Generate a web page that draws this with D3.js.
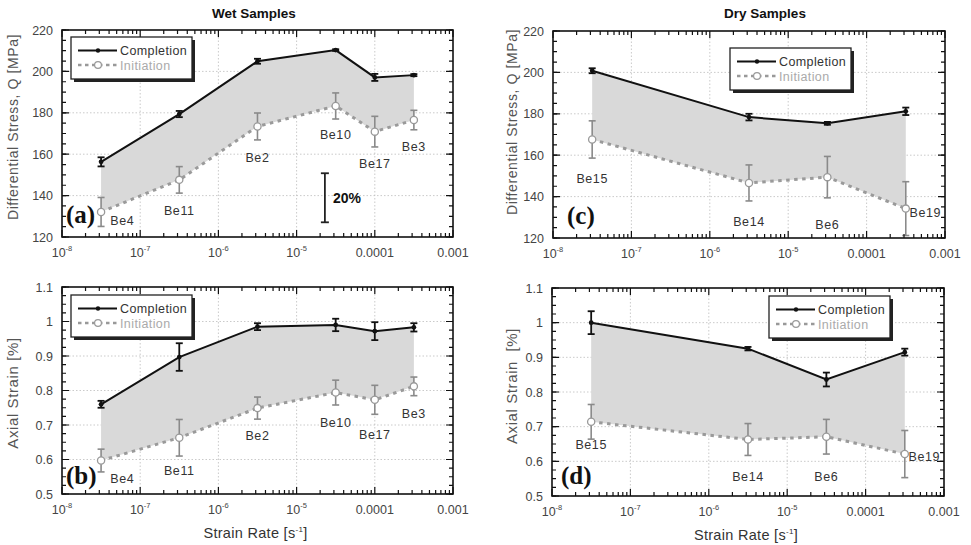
<!DOCTYPE html>
<html>
<head>
<meta charset="utf-8">
<script src="https://cdn.jsdelivr.net/npm/d3@7"></script>
<style>
  body { margin: 0; background: #fff; }
  svg { display: block; font-family: "Liberation Sans", Arial, sans-serif; }
</style>
</head>
<body>
<svg id="chart" width="971" height="545"></svg>
<script>

// ---- data ----

var wetRates  = [3.16e-8, 3.16e-7, 3.16e-6, 3.16e-5, 1e-4, 3.16e-4]
var wetNames  = ["Be4", "Be11", "Be2", "Be10", "Be17", "Be3"]
var wetLabelRates = [5.9e-8, 3.16e-7, 3.16e-6, 3.16e-5, 1e-4, 3.16e-4]

var wetStressCompletion    = [156.3, 179.4, 204.9, 210.3, 197.1, 198.2]
var wetStressCompletionErr = [2.2, 1.5, 1.2, 0.4, 1.7, 0.5]
var wetStressInitiation    = [132.1, 147.6, 173.4, 183.3, 170.9, 176.5]
var wetStressInitiationErr = [7, 6.4, 6.5, 6.3, 7.4, 4.7]
var wetStressLabels        = [128.2, 133, 158.5, 169.3, 155.6, 163.6]

var wetStrainCompletion    = [0.76, 0.897, 0.985, 0.99, 0.972, 0.983]
var wetStrainCompletionErr = [0.01, 0.04, 0.01, 0.018, 0.026, 0.012]
var wetStrainInitiation    = [0.597, 0.663, 0.749, 0.794, 0.773, 0.812]
var wetStrainInitiationErr = [0.033, 0.053, 0.032, 0.036, 0.042, 0.027]
var wetStrainLabels        = [0.545, 0.569, 0.671, 0.707, 0.672, 0.734]

var dryRates  = [3.16e-8, 3.16e-6, 3.16e-5, 3.16e-4]
var dryNames  = ["Be15", "Be14", "Be6", "Be19"]
var dryLabelRates = [3.16e-8, 3.16e-6, 3.16e-5, 5.6e-4]

var dryStressCompletion    = [200.8, 178.4, 175.4, 181.2]
var dryStressCompletionErr = [1.2, 1.6, 0.7, 1.8]
var dryStressInitiation    = [167.6, 146.6, 149.4, 134.2]
var dryStressInitiationErr = [9, 8.7, 10, 13]
var dryStressLabels        = [148.8, 128.2, 126.3, 132.4]

var dryStrainCompletion    = [1.0, 0.925, 0.836, 0.915]
var dryStrainCompletionErr = [0.033, 0.005, 0.02, 0.01]
var dryStrainInitiation    = [0.714, 0.663, 0.671, 0.621]
var dryStrainInitiationErr = [0.05, 0.046, 0.05, 0.068]
var dryStrainLabels        = [0.649, 0.556, 0.556, 0.613]

var xDomain = [1e-8, 1e-3]
var xTickLabels = ["10|-8", "10|-7", "10|-6", "10|-5", "0.0001", "0.001"]
var stressTicks = [120, 140, 160, 180, 200, 220]
var strainTicks = [0.5, 0.6, 0.7, 0.8, 0.9, 1, 1.1]

// scale bar drawn in panel (a)
var scaleBarRate = 2.3e-5
var scaleBarRange = [127.1, 150.8]
var scaleBarText = "20%"

var svg = d3.select("#chart")

function drawPanel(p) {

  var x = d3.scaleLog().domain(xDomain).range([p.left, p.right])
  var y = d3.scaleLinear().domain([p.yTicks[0], p.yTicks[p.yTicks.length-1]]).range([p.bottom, p.top])
  var g = svg.append("g")

  // grid
  var decades = d3.range(-8, -2).map(function(e){ return Math.pow(10, e) })
  g.selectAll(".gx").data(decades.slice(1, -1)).enter().append("line")
    .attr("x1", x).attr("x2", x).attr("y1", p.top).attr("y2", p.bottom)
    .attr("stroke", "#bdbdbd").attr("stroke-width", 0.8).attr("stroke-dasharray", "1.5,2")
  g.selectAll(".gy").data(p.yTicks.slice(1, -1)).enter().append("line")
    .attr("x1", p.left).attr("x2", p.right).attr("y1", y).attr("y2", y)
    .attr("stroke", "#bdbdbd").attr("stroke-width", 0.8).attr("stroke-dasharray", "1.5,2")

  var rows = p.rates.map(function(r, i) {
    return { r: r, c: p.comp[i], ce: p.compErr[i], n: p.init[i], ne: p.initErr[i] }
  })

  // band between initiation and completion
  var area = d3.area().x(function(d){ return x(d.r) })
      .y0(function(d){ return y(d.n) }).y1(function(d){ return y(d.c) })
  g.append("path").datum(rows).attr("d", area).attr("fill", "#d9d9d9")

  var initLine = d3.line().x(function(d){ return x(d.r) }).y(function(d){ return y(d.n) })
  var compLine = d3.line().x(function(d){ return x(d.r) }).y(function(d){ return y(d.c) })

  g.append("path").datum(rows).attr("d", initLine).attr("fill", "none")
    .attr("stroke", "#9a9a9a").attr("stroke-width", 3).attr("stroke-dasharray", "3.5,4.5")
  g.append("path").datum(rows).attr("d", compLine).attr("fill", "none")
    .attr("stroke", "#111").attr("stroke-width", 2)

  function errorBars(key, errKey, colour, width) {
    var eb = g.selectAll(null).data(rows).enter().append("g").attr("stroke", colour).attr("stroke-width", width)
    eb.append("line").attr("x1", function(d){ return x(d.r) }).attr("x2", function(d){ return x(d.r) })
      .attr("y1", function(d){ return y(d[key] - d[errKey]) }).attr("y2", function(d){ return y(d[key] + d[errKey]) })
    eb.append("line").attr("x1", function(d){ return x(d.r) - 3.5 }).attr("x2", function(d){ return x(d.r) + 3.5 })
      .attr("y1", function(d){ return y(d[key] - d[errKey]) }).attr("y2", function(d){ return y(d[key] - d[errKey]) })
    eb.append("line").attr("x1", function(d){ return x(d.r) - 3.5 }).attr("x2", function(d){ return x(d.r) + 3.5 })
      .attr("y1", function(d){ return y(d[key] + d[errKey]) }).attr("y2", function(d){ return y(d[key] + d[errKey]) })
  }
  errorBars("n", "ne", "#8a8a8a", 1.6)
  errorBars("c", "ce", "#111", 1.8)

  g.selectAll(null).data(rows).enter().append("circle")
    .attr("cx", function(d){ return x(d.r) }).attr("cy", function(d){ return y(d.n) }).attr("r", 3.6)
    .attr("fill", "#fff").attr("stroke", "#999").attr("stroke-width", 1.3)
  g.selectAll(null).data(rows).enter().append("circle")
    .attr("cx", function(d){ return x(d.r) }).attr("cy", function(d){ return y(d.c) }).attr("r", 2.4)
    .attr("fill", "#111")

  // sample names
  g.selectAll(null).data(p.names).enter().append("text")
    .attr("x", function(d, i){ return x(p.labelRates[i]) })
    .attr("y", function(d, i){ return y(p.labelValues[i]) + 4.5 })
    .attr("text-anchor", "middle").attr("font-size", 12.5).attr("letter-spacing", 0.6)
    .attr("fill", "#333").text(function(d){ return d })

  // frame and ticks
  g.append("rect").attr("x", p.left).attr("y", p.top)
    .attr("width", p.right - p.left).attr("height", p.bottom - p.top)
    .attr("fill", "none").attr("stroke", "#111").attr("stroke-width", 1.6)

  var minorX = []
  decades.slice(0, -1).forEach(function(d){
    for (var k = 2; k <= 9; k++) minorX.push(k * d)
  })
  function xTicks(vals, len) {
    g.selectAll(null).data(vals).enter().append("path")
      .attr("d", function(d){
        var xx = x(d)
        return "M" + xx + "," + p.bottom + "v" + (-len) + "M" + xx + "," + p.top + "v" + len
      })
      .attr("stroke", "#111").attr("stroke-width", 1.2)
  }
  xTicks(minorX, 4)
  xTicks(decades, 7)

  var yLo = p.yTicks[0], yHi = p.yTicks[p.yTicks.length-1]
  var minorY = d3.range(0, Math.round((yHi - yLo) / p.yMinor) + 1).map(function(i){ return yLo + i * p.yMinor })
  function yTicksDraw(vals, len) {
    g.selectAll(null).data(vals).enter().append("path")
      .attr("d", function(d){
        var yy = y(d)
        return "M" + p.left + "," + yy + "h" + len + "M" + p.right + "," + yy + "h" + (-len)
      })
      .attr("stroke", "#111").attr("stroke-width", 1.2)
  }
  yTicksDraw(minorY, 4)
  yTicksDraw(p.yTicks, 7)

  // tick labels
  g.selectAll(null).data(p.yTicks).enter().append("text")
    .attr("x", p.left - 9).attr("y", function(d){ return y(d) + 4.5 })
    .attr("text-anchor", "end").attr("font-size", 12.5).attr("fill", "#444")
    .text(function(d){ return String(+d.toFixed(2)) })

  var xl = g.selectAll(null).data(decades).enter().append("text")
    .attr("x", function(d){ return x(d) }).attr("y", p.bottom + 20)
    .attr("text-anchor", "middle").attr("font-size", 12.5).attr("fill", "#444")
  xl.each(function(d, i){
    var parts = xTickLabels[i].split("|")
    var t = d3.select(this)
    t.append("tspan").text(parts[0])
    if (parts[1]) t.append("tspan").attr("dy", -6).attr("font-size", 7.5).text(parts[1])
  })

  // axis titles
  g.append("text")
    .attr("transform", "translate(" + p.yTitleX + "," + p.yTitleY + ") rotate(-90)")
    .attr("text-anchor", "middle").attr("font-size", p.yTitleSize).attr("letter-spacing", 0.6)
    .attr("fill", "#555").style("white-space", "pre")
    .text(p.yTitle)

  if (p.xTitle) {
    var xt = g.append("text").attr("x", (p.left + p.right) / 2 - 2).attr("y", p.bottom + 44)
      .attr("text-anchor", "middle").attr("font-size", 14.5).attr("letter-spacing", 0.3).attr("fill", "#333")
    xt.append("tspan").text("Strain Rate [s")
    xt.append("tspan").attr("dy", -6).attr("font-size", 8).text("-1")
    xt.append("tspan").attr("dy", 6).text("]")
  }
  if (p.title) {
    g.append("text").attr("x", p.titleX).attr("y", 18).attr("text-anchor", "middle")
      .attr("font-size", 13.5).attr("font-weight", "bold").attr("fill", "#111").text(p.title)
  }

  // panel letter
  g.append("text").attr("x", p.letterX).attr("y", p.letterY)
    .style("font-family", "'Liberation Serif', 'Times New Roman', serif")
    .attr("font-size", 25).attr("font-weight", "bold").attr("fill", "#111").text(p.letter)

  // legend
  var lg = g.append("g").attr("transform", "translate(" + p.legendX + "," + p.legendY + ")")
  lg.append("rect").attr("x", 3).attr("y", 3).attr("width", 121).attr("height", 42).attr("fill", "#222")
  lg.append("rect").attr("width", 121).attr("height", 42).attr("fill", "#fff")
    .attr("stroke", "#222").attr("stroke-width", 1.3)
  lg.append("line").attr("x1", 7).attr("x2", 46).attr("y1", 13.5).attr("y2", 13.5)
    .attr("stroke", "#111").attr("stroke-width", 1.8)
  lg.append("circle").attr("cx", 27).attr("cy", 13.5).attr("r", 2.2).attr("fill", "#111")
  lg.append("text").attr("x", 49).attr("y", 18).attr("font-size", 12.5).attr("letter-spacing", 0.4)
    .attr("fill", "#333").text("Completion")
  lg.append("line").attr("x1", 7).attr("x2", 46).attr("y1", 28).attr("y2", 28)
    .attr("stroke", "#999").attr("stroke-width", 2.6).attr("stroke-dasharray", "3.5,3.5")
  lg.append("circle").attr("cx", 27).attr("cy", 28).attr("r", 3.4)
    .attr("fill", "#fff").attr("stroke", "#999").attr("stroke-width", 1.2)
  lg.append("text").attr("x", 49).attr("y", 32.5).attr("font-size", 12.5).attr("letter-spacing", 0.4)
    .attr("fill", "#aaa").text("Initiation")

  return { x: x, y: y, g: g }
}

var a = drawPanel({
  left: 62, right: 453, top: 30, bottom: 237,
  yTicks: stressTicks, yMinor: 5,
  rates: wetRates, names: wetNames, labelRates: wetLabelRates, labelValues: wetStressLabels,
  comp: wetStressCompletion, compErr: wetStressCompletionErr,
  init: wetStressInitiation, initErr: wetStressInitiationErr,
  yTitle: "Differential Stress, Q [MPa]", yTitleX: 18, yTitleY: 127, yTitleSize: 14,
  title: "Wet Samples", titleX: 254,
  letter: "(a)", letterX: 66, letterY: 223,
  legendX: 71, legendY: 37
})

// 20% scale bar
var sb = a.g.append("g").attr("stroke", "#222").attr("stroke-width", 1.8)
sb.append("line").attr("x1", a.x(scaleBarRate)).attr("x2", a.x(scaleBarRate))
  .attr("y1", a.y(scaleBarRange[0])).attr("y2", a.y(scaleBarRange[1]))
scaleBarRange.forEach(function(v){
  sb.append("line").attr("x1", a.x(scaleBarRate) - 4).attr("x2", a.x(scaleBarRate) + 4)
    .attr("y1", a.y(v)).attr("y2", a.y(v))
})
a.g.append("text").attr("x", a.x(scaleBarRate) + 8).attr("y", (a.y(scaleBarRange[0]) + a.y(scaleBarRange[1])) / 2 + 5)
  .attr("font-size", 14).attr("font-weight", "bold").attr("fill", "#111").text(scaleBarText)

drawPanel({
  left: 62, right: 453, top: 287, bottom: 494,
  yTicks: strainTicks, yMinor: 0.025,
  rates: wetRates, names: wetNames, labelRates: wetLabelRates, labelValues: wetStrainLabels,
  comp: wetStrainCompletion, compErr: wetStrainCompletionErr,
  init: wetStrainInitiation, initErr: wetStrainInitiationErr,
  yTitle: "Axial Strain [%]", yTitleX: 18, yTitleY: 393, yTitleSize: 15,
  xTitle: true,
  letter: "(b)", letterX: 66, letterY: 484,
  legendX: 71, legendY: 295
})

drawPanel({
  left: 553, right: 945, top: 31, bottom: 238,
  yTicks: stressTicks, yMinor: 5,
  rates: dryRates, names: dryNames, labelRates: dryLabelRates, labelValues: dryStressLabels,
  comp: dryStressCompletion, compErr: dryStressCompletionErr,
  init: dryStressInitiation, initErr: dryStressInitiationErr,
  yTitle: "Differential Stress, Q [MPa]", yTitleX: 517, yTitleY: 122, yTitleSize: 14,
  title: "Dry Samples", titleX: 765,
  letter: "(c)", letterX: 567, letterY: 224,
  legendX: 730, legendY: 48
})

drawPanel({
  left: 552, right: 944, top: 288, bottom: 496,
  yTicks: strainTicks, yMinor: 0.025,
  rates: dryRates, names: dryNames, labelRates: dryLabelRates, labelValues: dryStrainLabels,
  comp: dryStrainCompletion, compErr: dryStrainCompletionErr,
  init: dryStrainInitiation, initErr: dryStrainInitiationErr,
  yTitle: "Axial Strain  [%]", yTitleX: 517, yTitleY: 386, yTitleSize: 15,
  xTitle: true,
  letter: "(d)", letterX: 561, letterY: 484,
  legendX: 769, legendY: 296
})

</script>
</body>
</html>
